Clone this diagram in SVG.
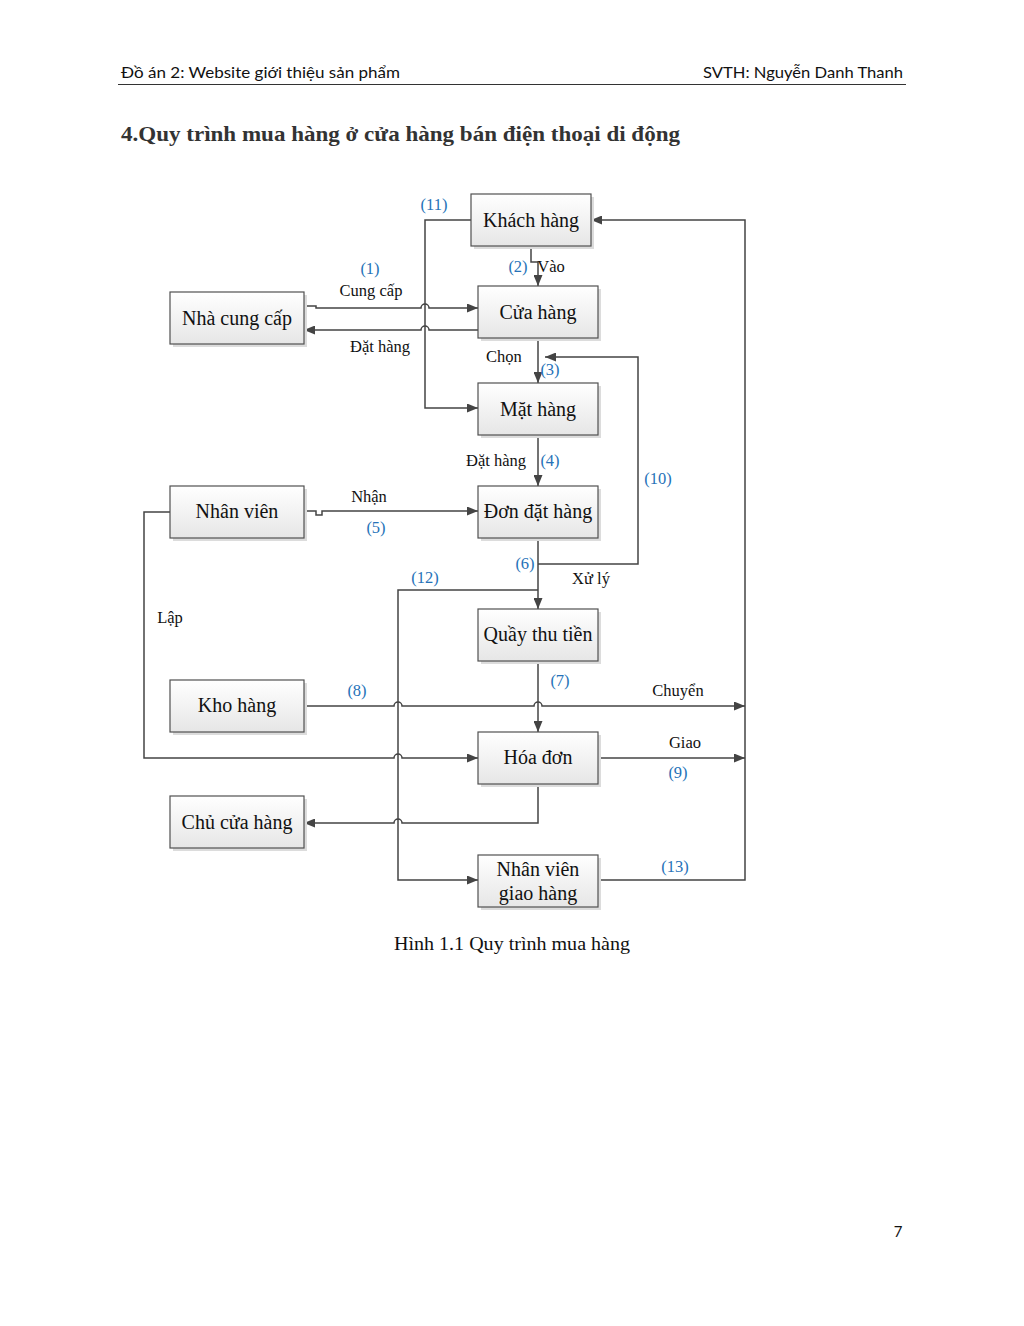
<svg xmlns="http://www.w3.org/2000/svg" width="1024" height="1326" viewBox="0 0 1024 1326">
<style>
.box{fill:url(#g);stroke:#505050;stroke-width:1.2}
.sh{fill:#dcdcdc}
.bt{font-family:"Liberation Serif","Times New Roman",serif;font-size:20px;fill:#111;text-anchor:middle}
.lb{font-family:"Liberation Serif","Times New Roman",serif;font-size:16.5px;fill:#111;text-anchor:middle}
.nb{font-family:"Liberation Serif","Times New Roman",serif;font-size:16.5px;fill:#2672B8;text-anchor:middle}
.ln{fill:none;stroke:#444;stroke-width:1.5}
.hd{font-family:Lato,"Liberation Sans",sans-serif;font-size:16px;fill:#111}
</style>
<defs>
<linearGradient id="g" x1="0" y1="0" x2="0" y2="1">
<stop offset="0" stop-color="#ffffff"/>
<stop offset="1" stop-color="#e6e6e6"/>
</linearGradient>
<marker id="a" markerUnits="userSpaceOnUse" markerWidth="11" markerHeight="9" refX="11" refY="4.5" orient="auto">
<path d="M0,0 L11,4.5 L0,9 z" fill="#444"/>
</marker>
</defs>
<rect width="1024" height="1326" fill="#fff"/>
<g id="header">
<text class="hd" x="121" y="78" textLength="279" lengthAdjust="spacingAndGlyphs">Đồ án 2: Website giới thiệu sản phẩm</text>
<text class="hd" x="703" y="78" textLength="200" lengthAdjust="spacingAndGlyphs">SVTH: Nguyễn Danh Thanh</text>
<line x1="118" y1="84.5" x2="906" y2="84.5" stroke="#333" stroke-width="1"/>
<text x="121" y="141" font-family="'Liberation Serif',serif" font-weight="bold" font-size="22" fill="#333" textLength="559" lengthAdjust="spacingAndGlyphs">4.Quy trình mua hàng ở cửa hàng bán điện thoại di động</text>
</g>
<g id="connectors">
<path class="ln" d="M471,220 H425 V408 H478" marker-end="url(#a)"/>
<path class="ln" d="M304,306 H316 V308 H421 A4,4 0 0 1 429,308 H478" marker-end="url(#a)"/>
<path class="ln" d="M478,330 H429 A4,4 0 0 0 421,330 H304" marker-end="url(#a)"/>
<path class="ln" d="M531,246 V262 H538 V286" marker-end="url(#a)"/>
<path class="ln" d="M538,338 V383" marker-end="url(#a)"/>
<path class="ln" d="M538,435 V486" marker-end="url(#a)"/>
<path class="ln" d="M304,511 H316 V515 H322 V511 H478" marker-end="url(#a)"/>
<path class="ln" d="M538,538 V609" marker-end="url(#a)"/>
<path class="ln" d="M538,564 H638 V357 H545" marker-end="url(#a)"/>
<path class="ln" d="M538,590 H398 V880 H478" marker-end="url(#a)"/>
<path class="ln" d="M538,661 V732" marker-end="url(#a)"/>
<path class="ln" d="M304,706 H394 A4,4 0 0 1 402,706 H534 A4,4 0 0 1 542,706 H745" marker-end="url(#a)"/>
<path class="ln" d="M170,512 H144 V758 H394 A4,4 0 0 1 402,758 H478" marker-end="url(#a)"/>
<path class="ln" d="M598,758 H745" marker-end="url(#a)"/>
<path class="ln" d="M538,784 V823 H402 A4,4 0 0 0 394,823 H304" marker-end="url(#a)"/>
<path class="ln" d="M598,880 H745 V220 H591" marker-end="url(#a)"/>
</g>
<g id="labels">
<text class="nb" x="434" y="210">(11)</text>
<text class="nb" x="370" y="274">(1)</text>
<text class="lb" x="371" y="296">Cung cấp</text>
<text class="lb" x="380" y="352">Đặt hàng</text>
<text class="nb" x="518" y="272">(2)</text>
<text class="lb" x="551" y="272">Vào</text>
<text class="lb" x="504" y="362">Chọn</text>
<text class="nb" x="550" y="375">(3)</text>
<text class="lb" x="496" y="466">Đặt hàng</text>
<text class="nb" x="550" y="466">(4)</text>
<text class="nb" x="658" y="484">(10)</text>
<text class="lb" x="369" y="502">Nhận</text>
<text class="nb" x="376" y="533">(5)</text>
<text class="nb" x="525" y="569">(6)</text>
<text class="lb" x="591" y="584">Xử lý</text>
<text class="nb" x="425" y="583">(12)</text>
<text class="lb" x="170" y="623">Lập</text>
<text class="nb" x="560" y="686">(7)</text>
<text class="nb" x="357" y="696">(8)</text>
<text class="lb" x="678" y="696">Chuyển</text>
<text class="lb" x="685" y="748">Giao</text>
<text class="nb" x="678" y="778">(9)</text>
<text class="nb" x="675" y="872">(13)</text>
</g>
<g id="n-khach"><rect class="sh" x="474" y="197" width="120" height="52"/><rect class="box" x="471" y="194" width="120" height="52"/><text class="bt" x="531" y="227">Khách hàng</text></g>
<g id="n-cuahang"><rect class="sh" x="481" y="289" width="120" height="52"/><rect class="box" x="478" y="286" width="120" height="52"/><text class="bt" x="538" y="319">Cửa hàng</text></g>
<g id="n-mathang"><rect class="sh" x="481" y="386" width="120" height="52"/><rect class="box" x="478" y="383" width="120" height="52"/><text class="bt" x="538" y="416">Mặt hàng</text></g>
<g id="n-ncc"><rect class="sh" x="173" y="295" width="134" height="52"/><rect class="box" x="170" y="292" width="134" height="52"/><text class="bt" x="237" y="325">Nhà cung cấp</text></g>
<g id="n-nhanvien"><rect class="sh" x="173" y="489" width="134" height="52"/><rect class="box" x="170" y="486" width="134" height="52"/><text class="bt" x="237" y="518">Nhân viên</text></g>
<g id="n-don"><rect class="sh" x="481" y="489" width="120" height="52"/><rect class="box" x="478" y="486" width="120" height="52"/><text class="bt" x="538" y="518">Đơn đặt hàng</text></g>
<g id="n-quay"><rect class="sh" x="481" y="612" width="120" height="52"/><rect class="box" x="478" y="609" width="120" height="52"/><text class="bt" x="538" y="641">Quầy thu tiền</text></g>
<g id="n-kho"><rect class="sh" x="173" y="683" width="134" height="52"/><rect class="box" x="170" y="680" width="134" height="52"/><text class="bt" x="237" y="712">Kho hàng</text></g>
<g id="n-hoadon"><rect class="sh" x="481" y="735" width="120" height="52"/><rect class="box" x="478" y="732" width="120" height="52"/><text class="bt" x="538" y="764">Hóa đơn</text></g>
<g id="n-chu"><rect class="sh" x="173" y="799" width="134" height="52"/><rect class="box" x="170" y="796" width="134" height="52"/><text class="bt" x="237" y="829">Chủ cửa hàng</text></g>
<g id="n-giaohang"><rect class="sh" x="481" y="858" width="120" height="52"/><rect class="box" x="478" y="855" width="120" height="52"/><text class="bt" x="538" y="876">Nhân viên</text><text class="bt" x="538" y="900">giao hàng</text></g>
<g id="footer">
<text x="394" y="950" font-family="'Liberation Serif',serif" font-size="19" fill="#111" textLength="236" lengthAdjust="spacingAndGlyphs">Hình 1.1 Quy trình mua hàng</text>
<text x="898" y="1237" text-anchor="middle" font-family="Lato,'Liberation Sans',sans-serif" font-size="15" fill="#111">7</text>
</g>
</svg>
